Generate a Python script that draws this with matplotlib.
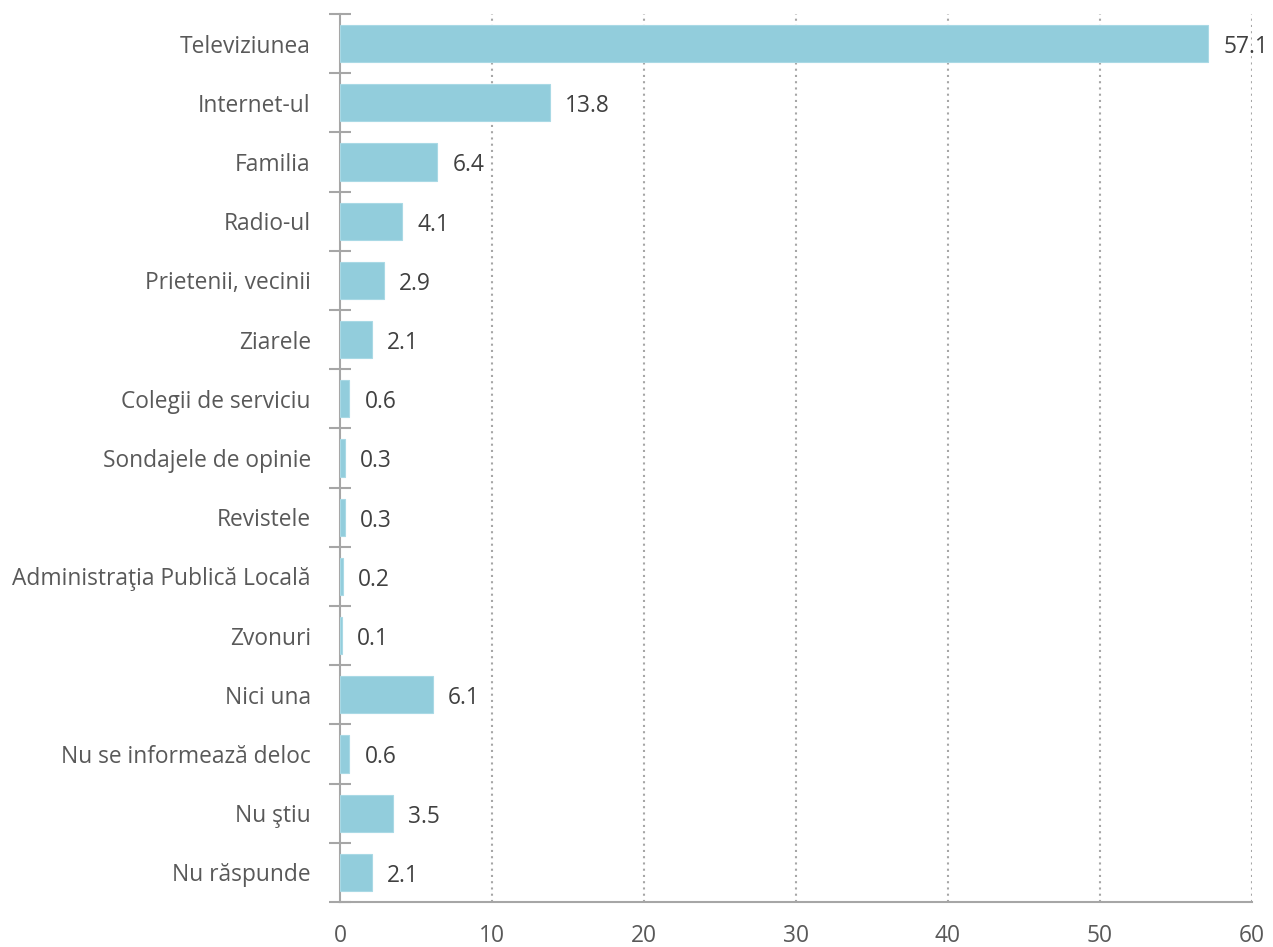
import matplotlib
matplotlib.use("Agg")
import matplotlib.pyplot as plt
import numpy as np
from matplotlib.ticker import FixedLocator

categories = ["Televiziunea", "Internet-ul", "Familia", "Radio-ul", "Prietenii, vecinii",
              "Ziarele", "Colegii de serviciu", "Sondajele de opinie", "Revistele",
              "Administraţia Publică Locală", "Zvonuri", "Nici una",
              "Nu se informează deloc", "Nu ştiu", "Nu răspunde"]
values = [57.1, 13.8, 6.4, 4.1, 2.9, 2.1, 0.6, 0.3, 0.3, 0.2, 0.1, 6.1, 0.6, 3.5, 2.1]
x_ticks = [0, 10, 20, 30, 40, 50, 60]

plt.rcParams['font.family'] = ['Open Sans', 'DejaVu Sans']
FS = 16.4

fig = plt.figure(figsize=(12.73, 9.47), dpi=100)
ax = fig.add_axes([340/1273, 45/947, (1252-340)/1273, (902-14)/947])

n = len(categories)
pos = np.arange(n)
bar_color = "#92CDDC"
ax.barh(pos, values, height=0.63, color=bar_color, edgecolor="#A9D9E5", linewidth=0.8, zorder=3)
ax.set_ylim(n - 0.5, -0.5)
ax.set_xlim(0, 60)

for p, v in zip(pos, values):
    ax.annotate(f"{v:.1f}", (v, p), xytext=(11, -2.5), textcoords="offset points",
                va="center", ha="left", fontsize=FS, color="#404040", zorder=4)

spine_col = "#A6A6A6"
for s in ["top", "right"]:
    ax.spines[s].set_visible(False)
ax.spines["left"].set_color(spine_col)
ax.spines["left"].set_linewidth(1.5)
ax.spines["bottom"].set_color(spine_col)
ax.spines["bottom"].set_linewidth(1.5)

ax.yaxis.set_major_locator(FixedLocator(np.arange(-0.5, n, 1.0)))
ax.yaxis.set_major_formatter(plt.NullFormatter())
ax.tick_params(axis="y", which="major", direction="inout", length=16, width=1.5, color=spine_col)
ax.yaxis.set_minor_locator(FixedLocator(pos))
ax.set_yticklabels(categories, minor=True)
ax.tick_params(axis="y", which="minor", length=0, pad=21, labelsize=FS, labelcolor="#595959")

ax.set_xticks(x_ticks)
ax.tick_params(axis="x", length=0, pad=16, labelsize=FS, labelcolor="#595959")

ax.grid(axis="x", linestyle=(0, (1, 2)), color="#A6A6A6", linewidth=1.5, zorder=0)
ax.xaxis.get_gridlines()[0].set_visible(False)

fig.savefig("out.png", dpi=100)
